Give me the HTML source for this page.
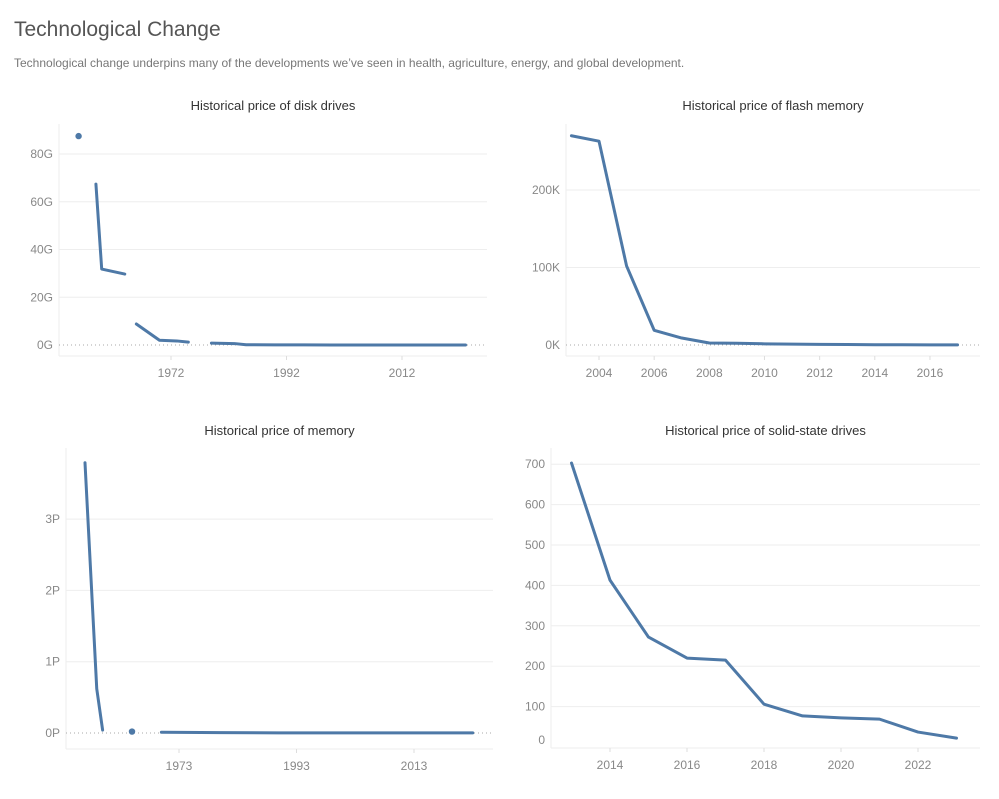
<!DOCTYPE html>
<html><head><meta charset="utf-8">
<style>
body{margin:0;background:#fff;font-family:"Liberation Sans",sans-serif;}
#wrap{position:relative;width:999px;height:799px;overflow:hidden}
h1{position:absolute;left:14px;top:18px;margin:0;font-size:21px;font-weight:normal;color:#555}
p.sub{position:absolute;left:14px;top:56px;margin:0;font-size:12px;color:#777}
svg{position:absolute;left:0;top:0}
</style></head>
<body><div id="wrap">
<h1>Technological Change</h1>
<p class="sub">Technological change underpins many of the developments we’ve seen in health, agriculture, energy, and global development.</p>
<svg id="svg" width="999" height="799"></svg>
</div>
<script>
// Disk drives (G)
const diskYears = [1956,1958,1959,1960,1964,1965,1966,1970,1973,1975,1976,1979,1983,1985,1990,1995,2000,2005,2010,2015,2020,2023];
const diskValues = [87.5,null,67.4,31.8,29.7,null,8.8,2.0,1.7,1.2,null,0.8,0.6,0.1,0.05,0.03,0.02,0.01,0.01,0.01,0.01,0.01];
const diskTicks = [1972,1992,2012];
const diskYTicks = [0,20,40,60,80];
// Flash memory (K)
const flashYears = [2003,2004,2005,2006,2007,2008,2009,2010,2011,2012,2013,2014,2015,2016,2017];
const flashValues = [270,263,102,19,9,2.6,2.2,1.5,1.2,0.8,0.6,0.4,0.25,0.15,0.1];
const flashTicks = [2004,2006,2008,2010,2012,2014,2016];
const flashYTicks = [0,100,200];
// Memory (P)
const memYears = [1957,1959,1960,1961,1965,1966,1970,1980,1990,2000,2010,2023];
const memValues = [3.79,0.62,0.04,null,0.02,null,0.01,0.005,0.002,0.001,0.001,0.001];
const memTicks = [1973,1993,2013];
const memYTicks = [0,1,2,3];
// SSD
const ssdYears = [2013,2014,2015,2016,2017,2018,2019,2020,2021,2022,2023];
const ssdValues = [703,413,272,220,215,106,77,72,69,37,22];
const ssdTicks = [2014,2016,2018,2020,2022];
const ssdYTicks = [0,100,200,300,400,500,600,700];

const NS='http://www.w3.org/2000/svg';
const svg=document.getElementById('svg');
function mk(tag,attrs,parent){const e=document.createElementNS(NS,tag);for(const k in attrs)e.setAttribute(k,attrs[k]);(parent||svg).appendChild(e);return e;}

function chart(c){
  const g=mk('g',{});
  
  
  const xs=v=>c.xPx0+(v-c.xV0)*c.xK;
  const ys=v=>c.yPx0-v*c.yK;
  const t=mk('text',{x:(c.left+c.right)/2,y:c.titleY,'text-anchor':'middle','font-size':13,fill:'#333'},g);
  t.textContent=c.title;
  
  
  mk('line',{x1:c.left,x2:c.left,y1:c.top,y2:c.bottom,stroke:'#eee'},g);
  mk('line',{x1:c.left,x2:c.right,y1:c.bottom,y2:c.bottom,stroke:'#eee'},g);
  c.yTicks.forEach(v=>{
    const y=ys(v);
    if(v===0){ if(!c.zeroUp) mk('line',{x1:c.left,x2:c.right,y1:y,y2:y,stroke:'#aaa','stroke-dasharray':'1,3'},g); }
    else mk('line',{x1:c.left,x2:c.right,y1:y,y2:y,stroke:'#eee'},g);
    const l=mk('text',{x:c.left-6,y:(v===0&&c.zeroUp?y-7:y)+4,'text-anchor':'end','font-size':12,fill:'#888'},g);
    l.textContent=c.fmt(v);
    
    
  });
  c.xTicks.forEach(v=>{
    const x=xs(v);
    mk('line',{x1:x,x2:x,y1:c.bottom,y2:c.bottom+4,stroke:'#ddd'},g);
    const l=mk('text',{x:x,y:c.bottom+21,'text-anchor':'middle','font-size':12,fill:'#888'},g);
    l.textContent=v;
    
    
  });
  let seg=[];const segs=[];
  c.xv.forEach((x,i)=>{const v=c.yv[i];if(v===null){if(seg.length)segs.push(seg);seg=[];}else seg.push([xs(x),ys(v)]);});
  if(seg.length)segs.push(seg);
  segs.forEach(s=>{
    if(s.length===1){
      const d=mk('circle',{cx:s[0][0],cy:s[0][1],r:3.2,fill:'#4e79a7'},g);
      
      
    } else {
      const p=mk('polyline',{points:s.map(q=>q.join(',')).join(' '),fill:'none',stroke:'#4e79a7','stroke-width':3,'stroke-linejoin':'round','stroke-linecap':'round'},g);
      
      
    }
  });
}
chart({name:'disk-drives-chart',title:'Historical price of disk drives',titleY:110,left:59,right:487,top:124,bottom:356,
  xPx0:171,xV0:1972,xK:5.775,yPx0:345,yK:2.3875,xTicks:diskTicks,yTicks:diskYTicks,xv:diskYears,yv:diskValues,fmt:v=>v+'G'});
chart({name:'flash-memory-chart',title:'Historical price of flash memory',titleY:110,left:566,right:980,top:124,bottom:356,
  xPx0:599,xV0:2004,xK:27.58,yPx0:345,yK:0.775,xTicks:flashTicks,yTicks:flashYTicks,xv:flashYears,yv:flashValues,fmt:v=>v+'K'});
chart({name:'memory-chart',title:'Historical price of memory',titleY:435,left:66,right:493,top:448,bottom:749,
  xPx0:179,xV0:1973,xK:5.875,yPx0:733,yK:71.3,xTicks:memTicks,yTicks:memYTicks,xv:memYears,yv:memValues,fmt:v=>v+'P'});
chart({name:'ssd-chart',title:'Historical price of solid-state drives',titleY:435,left:551,right:980,top:448,bottom:748,zeroUp:true,
  xPx0:610,xV0:2014,xK:38.5,yPx0:747,yK:0.404,xTicks:ssdTicks,yTicks:ssdYTicks,xv:ssdYears,yv:ssdValues,fmt:v=>String(v)});
</script>
</body></html>
